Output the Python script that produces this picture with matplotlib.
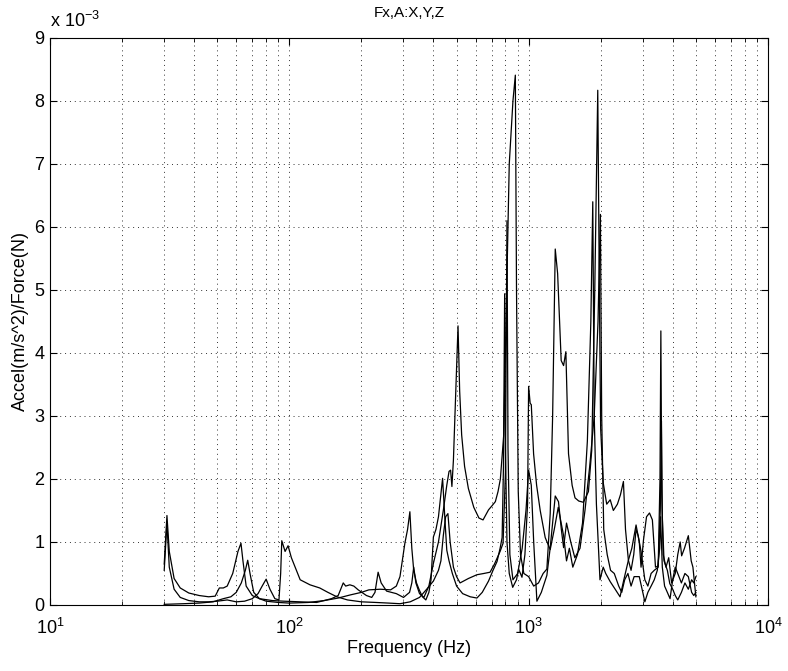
import numpy as np
import matplotlib
matplotlib.use("Agg")
import matplotlib.pyplot as plt
from matplotlib.ticker import LogLocator, FixedLocator, FuncFormatter

plt.rcParams['font.family'] = ['Liberation Sans', 'DejaVu Sans']
plt.rcParams['mathtext.fontset'] = 'custom'
plt.rcParams['mathtext.rm'] = 'Liberation Sans'

# frequency (Hz) and accel/force values (x 1e-3)
freq_a = [30, 36, 42, 48, 53, 57, 60, 63, 65.5, 67, 68.5, 71, 75, 80, 90, 100, 120, 140,
          160, 180, 200, 215, 240, 265, 280, 290, 304, 312, 319, 325, 331, 340, 349, 360,
          372, 383, 391, 400, 410, 420, 437, 447, 455, 465, 480, 500, 530, 570, 608, 640,
          680, 710, 738, 760, 775, 785, 794, 800, 812, 830, 858, 890, 908, 938, 965, 990,
          1000, 1015, 1026, 1049, 1080, 1118, 1173, 1231, 1280, 1330, 1360, 1400, 1440,
          1480, 1530, 1600, 1680, 1760, 1820, 1854, 1880, 1920, 1987, 2050, 2100, 2193,
          2300, 2410, 2500, 2612, 2700, 2812, 2900, 2950, 3020, 3110, 3200, 3290, 3390,
          3480, 3540, 3570, 3600, 3650, 3750, 3850, 3960, 4100, 4200, 4300, 4360, 4480,
          4650, 4780, 4860, 5000]
val_a = [0.01, 0.02, 0.03, 0.05, 0.10, 0.13, 0.20, 0.35, 0.55, 0.71, 0.50, 0.20, 0.10, 0.06,
         0.04, 0.03, 0.04, 0.07, 0.11, 0.16, 0.20, 0.24, 0.25, 0.24, 0.30, 0.45, 0.98, 1.20,
         1.48, 0.90, 0.55, 0.35, 0.24, 0.13, 0.08, 0.20, 0.40, 1.08, 1.20, 1.40, 2.01, 1.35,
         0.87, 0.70, 0.50, 0.30, 0.18, 0.13, 0.11, 0.20, 0.38, 0.55, 0.69, 0.90, 1.07, 2.20,
         4.94, 2.50, 1.00, 0.50, 0.28, 0.40, 0.57, 0.44, 0.80, 1.60, 3.47, 3.20, 3.18, 2.40,
         1.90, 1.50, 1.07, 0.88, 1.20, 1.55, 1.35, 1.10, 0.70, 0.90, 0.60, 0.80, 1.30, 2.60,
         4.50, 6.40, 3.00, 1.60, 0.40, 0.60, 0.50, 0.37, 0.25, 0.13, 0.40, 0.71, 0.90, 1.27,
         1.00, 0.60, 1.03, 1.40, 1.46, 1.35, 0.60, 0.62, 2.00, 4.35, 1.80, 0.80, 0.60, 0.75,
         0.35, 0.50, 0.80, 1.00, 0.78, 0.90, 1.10, 0.70, 0.60, 0.13]

freq_b = [30, 30.8, 31.5, 33, 35, 38, 42, 46, 49, 51, 53, 55, 58, 61, 62.8, 64, 66, 70, 75,
          85, 95, 110, 130, 150, 160, 168, 172, 179, 186, 194, 210, 221, 228, 235, 242, 255,
          280, 300, 318, 325, 331, 338, 350, 365, 383, 400, 420, 440, 455, 465, 472, 478,
          485, 495, 507, 515, 525, 540, 560, 590, 620, 645, 680, 705, 726, 745, 762, 787,
          805, 830, 860, 880, 890, 905, 925, 955, 1000, 1050, 1100, 1150, 1192, 1231, 1260,
          1292, 1322, 1368, 1400, 1431, 1468, 1520, 1563, 1620, 1694, 1778, 1836, 1890,
          1945, 1975, 2000, 2052, 2120, 2193, 2260, 2350, 2420, 2490, 2540, 2612, 2680,
          2750, 2812, 2870, 2950, 3060, 3150, 3250, 3350, 3480, 3550, 3590, 3620, 3680,
          3800, 3890, 4000, 4100, 4200, 4350, 4500, 4650, 4800, 4900, 5000]
val_b = [0.65, 1.42, 0.85, 0.42, 0.27, 0.19, 0.15, 0.13, 0.14, 0.27, 0.27, 0.30, 0.50, 0.85,
         0.98, 0.70, 0.30, 0.15, 0.10, 0.07, 0.06, 0.05, 0.04, 0.10, 0.15, 0.35, 0.30, 0.32,
         0.30, 0.24, 0.15, 0.12, 0.20, 0.52, 0.35, 0.22, 0.18, 0.12, 0.20, 0.35, 0.60, 0.35,
         0.18, 0.12, 0.30, 0.66, 1.00, 1.50, 1.90, 2.12, 2.14, 1.88, 2.30, 3.30, 4.43, 3.40,
         2.70, 2.20, 1.85, 1.55, 1.38, 1.35, 1.51, 1.58, 1.64, 1.80, 2.00, 2.70, 4.50, 7.00,
         8.00, 8.41, 5.00, 1.80, 0.80, 0.50, 0.45, 0.30, 0.35, 0.50, 0.57, 1.45, 3.00, 5.65,
         5.26, 3.88, 3.80, 4.02, 2.40, 1.90, 1.70, 1.65, 1.63, 1.80, 2.46, 5.00, 8.17, 5.00,
         2.80, 1.93, 1.60, 1.67, 1.50, 1.60, 1.75, 1.96, 1.20, 0.71, 0.55, 0.80, 1.20, 1.10,
         0.85, 0.40, 0.30, 0.50, 0.55, 0.60, 1.50, 2.92, 1.40, 0.70, 0.55, 0.34, 0.25, 0.15,
         0.08, 0.20, 0.35, 0.25, 0.40, 0.35, 0.45]

freq_c = [30, 30.8, 31.5, 33, 35, 38, 42, 46, 50, 55, 60, 65, 70, 74, 77, 80, 83, 87, 90.5,
          92, 93, 96, 98.8, 102, 111, 122, 134, 145, 158, 175, 200, 230, 260, 290, 320, 350,
          375, 400, 420, 430, 440, 450, 460, 470, 485, 500, 517, 560, 608, 650, 690, 720, 760,
          782, 800, 812, 820, 835, 860, 900, 940, 975, 1000, 1026, 1050, 1083, 1130, 1192,
          1231, 1292, 1333, 1370, 1400, 1440, 1500, 1560, 1640, 1720, 1800, 1880, 1950, 1995,
          2020, 2060, 2130, 2200, 2280, 2380, 2450, 2520, 2600, 2680, 2760, 2900, 3000, 3060,
          3150, 3250, 3350, 3450, 3530, 3560, 3620, 3700, 3800, 3900, 4000, 4100, 4200, 4350,
          4500, 4650, 4800, 4900, 5000]
val_c = [0.55, 1.30, 0.60, 0.25, 0.12, 0.07, 0.05, 0.05, 0.06, 0.08, 0.05, 0.06, 0.10, 0.18,
         0.30, 0.41, 0.25, 0.10, 0.08, 0.50, 1.02, 0.85, 0.94, 0.75, 0.40, 0.32, 0.27, 0.20,
         0.13, 0.08, 0.05, 0.04, 0.03, 0.02, 0.05, 0.12, 0.25, 0.38, 0.55, 0.70, 1.10, 1.40,
         1.45, 1.00, 0.60, 0.45, 0.35, 0.42, 0.48, 0.50, 0.52, 0.65, 0.85, 0.98, 2.10, 6.10,
         2.50, 0.80, 0.40, 0.50, 0.90, 1.50, 2.14, 1.90, 1.00, 0.06, 0.20, 0.47, 0.91, 1.73,
         1.64, 1.20, 0.91, 1.30, 1.00, 0.75, 0.90, 1.50, 2.20, 3.00, 4.50, 6.20, 3.00, 1.20,
         0.80, 0.55, 0.50, 0.30, 0.20, 0.40, 0.50, 0.30, 0.45, 0.45, 0.20, 0.05, 0.20, 0.30,
         0.40, 0.55, 0.90, 1.40, 0.60, 0.30, 0.20, 0.10, 0.40, 0.60, 0.50, 0.35, 0.50, 0.45,
         0.20, 0.15, 0.20]

y_ticks = [0, 1, 2, 3, 4, 5, 6, 7, 8, 9]

fig = plt.figure(figsize=(7.88, 6.71), dpi=100)
ax = fig.add_axes([0.0635, 0.0984, 0.911, 0.845])

for f, v in [(freq_a, val_a), (freq_b, val_b), (freq_c, val_c)]:
    ax.plot(f, np.array(v) * 1e-3, color='black', linewidth=0.9)

ax.set_xscale('log')
ax.set_xlim(10, 1e4)
ax.set_ylim(0, 9e-3)
ax.yaxis.set_major_locator(FixedLocator(np.array(y_ticks) * 1e-3))
ax.yaxis.set_major_formatter(FuncFormatter(lambda y, p: f"{y * 1e3:.0f}"))
ax.xaxis.set_minor_locator(LogLocator(base=10, subs=np.arange(2, 10), numticks=20))

ax.grid(True, which='major', linestyle=(0, (1, 4)), color='#333333', linewidth=0.7)
ax.grid(True, which='minor', axis='x', linestyle=(0, (1, 4)), color='#333333', linewidth=0.7)

ax.tick_params(which='both', direction='in', top=True, right=True, labelsize=13)
ax.tick_params(which='major', length=5)
ax.tick_params(which='minor', length=3)
ax.tick_params(axis='x', which='major', pad=9)
ax.tick_params(axis='y', which='major', pad=4)
for s in ax.spines.values():
    s.set_linewidth(0.8)

ax.set_title("Fx,A:X,Y,Z", fontsize=11, pad=15)
ax.set_xlabel("Frequency (Hz)", fontsize=13, labelpad=2)
ax.set_ylabel("Accel(m/s^2)/Force(N)", fontsize=13)
ax.text(0.0, 1.012, r"x 10$^{-3}$", transform=ax.transAxes, fontsize=13,
        ha='left', va='bottom')

fig.savefig("out.png", dpi=100)
